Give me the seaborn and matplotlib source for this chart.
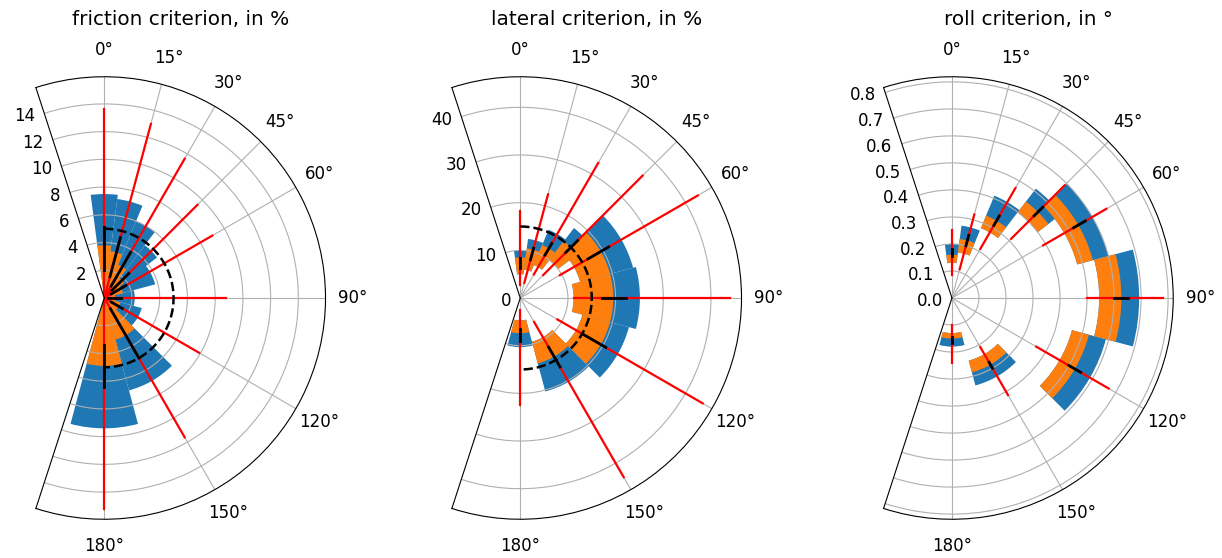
import numpy as np
import matplotlib
matplotlib.use("Agg")
import matplotlib.pyplot as plt
import seaborn as sns

# heading angles (deg) and sector widths (deg)
angles = [0, 15, 30, 45, 60, 90, 120, 150, 180]
widths = [15, 15, 15, 15, 30, 30, 30, 30, 30]

titles = ["friction criterion, in %", "lateral criterion, in %", "roll criterion, in °"]

# friction criterion
friction_orange_lo = [0, 0, 0, 0, 0, 0, 0, 0, 0]
friction_orange_hi = [3.8, 3.4, 2.6, 1.8, 1.4, 0.8, 1.2, 3.1, 4.9]
friction_blue_hi = [7.5, 7.2, 6.0, 4.8, 3.8, 2.2, 2.8, 6.9, 9.4]
friction_red_lo = [0, 0, 0, 0, 0, 0, 0, 0, 0]
friction_red_hi = [13.6, 13.0, 11.6, 9.5, 9.0, 8.8, 7.9, 11.6, 15.2]
friction_black_lo = [2.0, 1.6, 1.0, 0.8, 0.6, 0.3, 0.6, 0.9, 3.4]
friction_black_hi = [5.1, 4.5, 3.8, 2.5, 1.8, 1.2, 1.5, 5.0, 6.4]
friction_limit = 5

# lateral criterion
lateral_orange_lo = [5.0, 6.0, 7.5, 10.0, 13.0, 11.2, 13.5, 9.5, 4.7]
lateral_orange_hi = [8.5, 10.5, 12.0, 15.0, 19.5, 19.5, 19.5, 14.2, 7.4]
lateral_blue_hi = [10.0, 12.5, 15.5, 18.5, 24.5, 25.1, 23.6, 20.3, 10.3]
lateral_red_lo = [2.8, 3.3, 5.7, 6.8, 9.6, 11.2, 9.0, 5.8, 2.6]
lateral_red_hi = [18.3, 22.5, 32.7, 36.3, 43.0, 44.1, 44.2, 43.4, 22.5]
lateral_black_lo = [6.3, 8.3, 10.4, 13.5, 16.4, 17.1, 15.2, 11.9, 6.4]
lateral_black_hi = [8.4, 10.8, 13.2, 17.0, 21.4, 22.2, 20.7, 16.7, 9.1]
lateral_limit = 15

# roll criterion
roll_orange_lo = [0.13, 0.17, 0.28, 0.40, 0.48, 0.545, 0.46, 0.24, 0.13]
roll_orange_hi = [0.16, 0.22, 0.33, 0.45, 0.54, 0.627, 0.525, 0.285, 0.15]
roll_blue_hi = [0.20, 0.27, 0.41, 0.51, 0.60, 0.693, 0.59, 0.335, 0.18]
roll_red_lo = [0.085, 0.11, 0.21, 0.31, 0.39, 0.50, 0.36, 0.21, 0.10]
roll_red_hi = [0.25, 0.32, 0.47, 0.59, 0.66, 0.78, 0.67, 0.415, 0.24]
roll_black_lo = [0.155, 0.20, 0.31, 0.43, 0.52, 0.60, 0.50, 0.275, 0.145]
roll_black_hi = [0.18, 0.24, 0.35, 0.475, 0.57, 0.65, 0.55, 0.30, 0.166]
roll_limit = None

rticks = [np.arange(0, 15, 2), [0, 10, 20, 30, 40], np.round(np.arange(0, 0.81, 0.1), 1)]

panels = [
    (friction_orange_lo, friction_orange_hi, friction_blue_hi, friction_red_lo,
     friction_red_hi, friction_black_lo, friction_black_hi, friction_limit),
    (lateral_orange_lo, lateral_orange_hi, lateral_blue_hi, lateral_red_lo,
     lateral_red_hi, lateral_black_lo, lateral_black_hi, lateral_limit),
    (roll_orange_lo, roll_orange_hi, roll_blue_hi, roll_red_lo,
     roll_red_hi, roll_black_lo, roll_black_hi, roll_limit),
]

blue, orange = sns.color_palette("tab10")[:2]
plt.rcParams["font.size"] = 12

fig = plt.figure(figsize=(12.22, 5.58), dpi=100)
W, H = 1222, 558
R = 224
centers = [103.3, 519.3, 951.0]
cy = 298

th = np.deg2rad(angles)
wd = np.deg2rad(widths)

for i, cx in enumerate(centers):
    left = (cx + 0.3455 * R - R) / W
    bottom = (H - cy - R) / H
    ax = fig.add_axes([left, bottom, 2 * R / W, 2 * R / H], projection="polar")
    ax.set_theta_zero_location("N")
    ax.set_theta_direction(-1)

    o_lo, o_hi, b_hi, r_lo, r_hi, k_lo, k_hi, limit = panels[i]
    o_lo = np.array(o_lo)
    ax.bar(th, np.array(b_hi) - o_lo, width=wd, bottom=o_lo, color=blue, linewidth=0)
    ax.bar(th, np.array(o_hi) - o_lo, width=wd, bottom=o_lo, color=orange, linewidth=0)
    for t, a, b in zip(th, r_lo, r_hi):
        ax.plot([t, t], [a, b], color="r", lw=1.6)
    for t, a, b in zip(th, k_lo, k_hi):
        ax.plot([t, t], [a, b], color="k", lw=2)
    if limit is not None:
        arc = np.linspace(0, np.pi, 200)
        ax.plot(arc, np.full_like(arc, limit), "k--", lw=1.8)

    ax.set_thetamin(-18)
    ax.set_thetamax(198)
    ax.set_xticks(np.deg2rad([0, 15, 30, 45, 60, 90, 120, 150, 180]))
    ax.tick_params(axis="x", pad=9)
    ax.set_ylim(0, 1.05 * max(r_hi))
    ax.set_yticks(rticks[i])
    ax.set_title(titles[i], pad=11)

fig.savefig("out.png", dpi=100)
